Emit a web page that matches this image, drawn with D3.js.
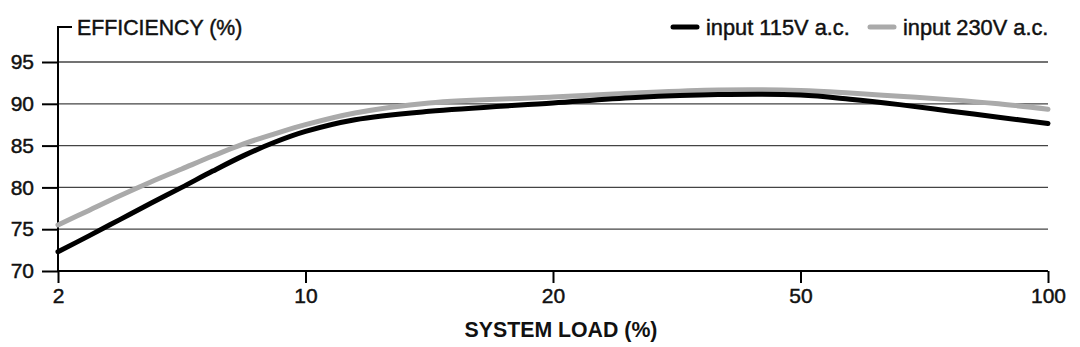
<!DOCTYPE html>
<html><head><meta charset="utf-8">
<script src="https://cdn.jsdelivr.net/npm/d3@7"></script>
<style>
html,body{margin:0;padding:0;background:#fff;}
svg{display:block;}
text{font-family:"Liberation Sans",Arial,Helvetica,sans-serif;fill:#111;}
</style></head>
<body><svg id="chart" width="1080" height="347"></svg>
<script>
const xTicks = [2, 10, 20, 50, 100];
const yTicks = [70, 75, 80, 85, 90, 95];
const loads = [2, 3, 4, 5, 6, 7, 8, 9, 10, 12, 15, 20, 30, 40, 50, 60, 70, 80, 90, 100];
const eff115 = [72.3, 74.2, 76.15, 78.1, 80.0, 81.95, 83.8, 85.4, 86.7, 88.1, 89.1, 90.1, 90.75, 91.1, 91.05, 90.55, 89.9, 89.15, 88.4, 87.65];
const eff230 = [75.5, 77.25, 79.0, 80.65, 82.2, 83.75, 85.2, 86.4, 87.5, 88.9, 90.1, 90.8, 91.3, 91.65, 91.6, 91.3, 90.9, 90.5, 90.0, 89.35];
const seriesNames = ["input 115V a.c.", "input 230V a.c."];
const seriesColors = ["#000000", "#aaaaaa"];
const yTitle = "EFFICIENCY (%)";
const xTitle = "SYSTEM LOAD (%)";

(function () {
const svg = d3.select("#chart");
const mLeft = 58, mRight = 1048, mTop = 62, mBottom = 271;
const medium = sel => sel.attr("stroke", "#111").attr("stroke-width", 0.45).attr("fill", "#111");

// evenly spaced ticks, piecewise-linear between them
const x = d3.scaleLinear().domain(xTicks)
  .range(xTicks.map((d, i) => mLeft + i * (mRight - mLeft) / (xTicks.length - 1)));
const y = d3.scaleLinear().domain([70, 95]).range([mBottom, mTop]);

// gridlines
svg.append("g").selectAll("line").data(yTicks.filter(d => d > 70)).join("line")
  .attr("x1", mLeft).attr("x2", mRight)
  .attr("y1", d => y(d)).attr("y2", d => y(d))
  .attr("stroke", "#444").attr("stroke-width", 1.3);

// y axis
const yAxis = svg.append("g").attr("transform", `translate(${mLeft},0)`)
  .call(d3.axisLeft(y).tickValues(yTicks).tickSize(16).tickPadding(8));
yAxis.select(".domain").remove();
yAxis.selectAll(".tick line").attr("stroke", "#000").attr("stroke-width", 2);
yAxis.selectAll(".tick text").attr("font-size", 21)
  .attr("font-family", "Liberation Sans, Arial, sans-serif").call(medium);
svg.append("path")
  .attr("d", `M${mLeft},${mBottom}V27H72`)
  .attr("fill", "none").attr("stroke", "#000").attr("stroke-width", 2);
svg.append("text").attr("x", 77).attr("y", 34.5).attr("font-size", 21.3).call(medium).text(yTitle);

// x axis
const xAxis = svg.append("g").attr("transform", `translate(0,${mBottom})`)
  .call(d3.axisBottom(x).tickValues(xTicks).tickFormat(d3.format("d")).tickSize(12).tickPadding(5));
xAxis.select(".domain").attr("stroke", "#000").attr("stroke-width", 2)
  .attr("d", `M${mLeft},0H${mRight}`);
xAxis.selectAll(".tick line").attr("stroke", "#000").attr("stroke-width", 2);
xAxis.selectAll(".tick text").attr("font-size", 21)
  .attr("font-family", "Liberation Sans, Arial, sans-serif").call(medium);
svg.append("text").attr("x", 561).attr("y", 337)
  .attr("text-anchor", "middle").attr("font-size", 21.3).attr("font-weight", "bold").text(xTitle);

// lines
const line = d3.line().x(d => x(d[0])).y(d => y(d[1])).curve(d3.curveCatmullRom.alpha(0.5));
[eff230, eff115].forEach((vals, k) => {
  const idx = k === 0 ? 1 : 0;
  svg.append("path")
    .datum(loads.map((l, i) => [l, vals[i]]))
    .attr("d", line)
    .attr("fill", "none").attr("stroke", seriesColors[idx])
    .attr("stroke-width", 5).attr("stroke-linecap", "round").attr("stroke-linejoin", "round");
});

// legend
const legendX = [673, 870];
seriesNames.forEach((name, i) => {
  const g = svg.append("g").attr("transform", `translate(${legendX[i]},27)`);
  g.append("line").attr("x1", 0).attr("x2", 24).attr("stroke", seriesColors[i])
    .attr("stroke-width", 5).attr("stroke-linecap", "round");
  g.append("text").attr("x", 33).attr("y", 7.5).attr("font-size", 21.8).call(medium).text(name);
});
})();
</script></body></html>
